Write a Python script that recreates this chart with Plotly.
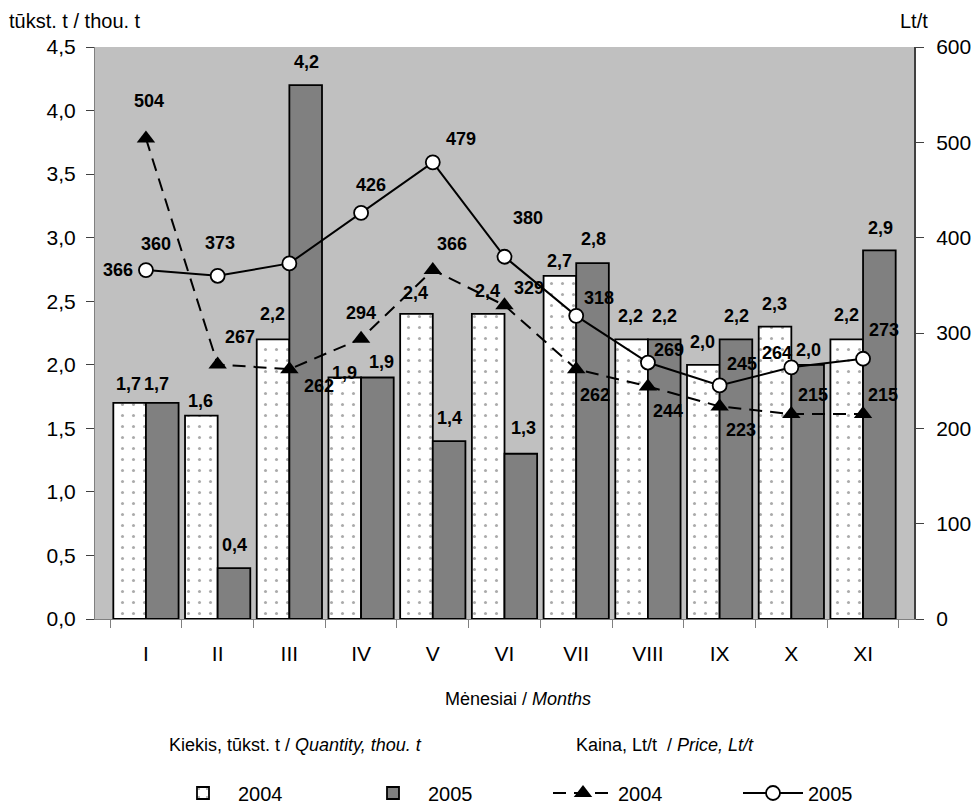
import plotly.graph_objects as go

months = ["I", "II", "III", "IV", "V", "VI", "VII", "VIII", "IX", "X", "XI"]
qty_2004 = [1.7, 1.6, 2.2, 1.9, 2.4, 2.4, 2.7, 2.2, 2.0, 2.3, 2.2]
qty_2005 = [1.7, 0.4, 4.2, 1.9, 1.4, 1.3, 2.8, 2.2, 2.2, 2.0, 2.9]
price_2004 = [504, 267, 262, 294, 366, 329, 262, 244, 223, 215, 215]
price_2005 = [366, 360, 373, 426, 479, 380, 318, 269, 245, 264, 273]

# label offsets (style only)
bar04_shift = [(0, 19), (0, 15), (0, 25), (0, 4), (0, 21), (0, 23), (0, 15), (0, 23), (0, 23), (0, 23), (0, 24)]
bar05_shift = [(-6, 19), (0, 23), (0, 23), (3, 15), (0, 23), (2, 26), (0, 24), (0, 23), (0, 23), (0, 15), (0, 22)]
p05_shift = [(-28, 0), (-62, 32), (-69, 20), (10, 28), (28, 23), (23, 39), (23, 18), (21, 13), (22, 21), (-14, 14), (21, 29)]
p04_shift = [(3, 38), (22, 27), (30, -17), (0, 26), (19, 26), (24, 17), (19, -26), (20, -25), (21, -24), (22, 19), (20, 19)]

FONT = "Liberation Sans, Arial, sans-serif"
OFF = 8  # page body margin
W, H = 979 - OFF, 805 - OFF
L, T = 95 - OFF, 47 - OFF
R = W - (914 - OFF)
B = H - (619 - OFF)
PW, PH = W - L - R, H - T - B


def px(x):  # page pixel -> paper
    return (x - OFF - L) / PW


def py(y):
    return (H - B - (y - OFF)) / PH


fig = go.Figure()
fig.add_trace(go.Bar(
    x=months, y=qty_2004, name="2004", yaxis="y",
    marker=dict(color="white", line=dict(color="black", width=1.8),
                pattern=dict(shape=".", fgcolor="#555555", bgcolor="white", size=11, solidity=0.06)),
))
fig.add_trace(go.Bar(
    x=months, y=qty_2005, name="2005", yaxis="y",
    marker=dict(color="#808080", line=dict(color="black", width=1.8)),
))
fig.add_trace(go.Scatter(
    x=months, y=price_2004, name="2004", yaxis="y2", mode="lines+markers",
    line=dict(color="black", width=2, dash="13px,8px"),
    marker=dict(symbol="triangle-up", size=16, color="black"),
))
fig.add_trace(go.Scatter(
    x=months, y=price_2005, name="2005", yaxis="y2", mode="lines+markers",
    line=dict(color="black", width=2),
    marker=dict(symbol="circle", size=14, color="white", line=dict(color="black", width=1.8)),
))

ann = []
lab_font = dict(family=FONT, size=18, color="black", weight="bold")
for i, m in enumerate(months):
    ann.append(dict(x=m, y=qty_2004[i], xref="x", yref="y", text=f"{qty_2004[i]:.1f}".replace(".", ","),
                    showarrow=False, xshift=-17 + bar04_shift[i][0], yshift=bar04_shift[i][1], font=lab_font))
    ann.append(dict(x=m, y=qty_2005[i], xref="x", yref="y", text=f"{qty_2005[i]:.1f}".replace(".", ","),
                    showarrow=False, xshift=17 + bar05_shift[i][0], yshift=bar05_shift[i][1], font=lab_font))
    ann.append(dict(x=m, y=price_2004[i], xref="x", yref="y2", text=str(price_2004[i]),
                    showarrow=False, xshift=p04_shift[i][0], yshift=p04_shift[i][1], font=lab_font))
    ann.append(dict(x=m, y=price_2005[i], xref="x", yref="y2", text=str(price_2005[i]),
                    showarrow=False, xshift=p05_shift[i][0], yshift=p05_shift[i][1], font=lab_font))

txt_font = dict(family=FONT, size=20, color="black")
small_font = dict(family=FONT, size=18, color="black")
ann += [
    dict(x=px(7), y=py(21), xref="paper", yref="paper", xanchor="left", yanchor="middle",
         text="tūkst. t / thou. t", showarrow=False, font=txt_font),
    dict(x=px(930), y=py(21), xref="paper", yref="paper", xanchor="right", yanchor="middle",
         text="Lt/t", showarrow=False, font=txt_font),
    dict(x=px(518), y=py(699), xref="paper", yref="paper", xanchor="center", yanchor="middle",
         text="Mėnesiai / <i>Months</i>", showarrow=False, font=small_font),
    dict(x=px(167), y=py(745), xref="paper", yref="paper", xanchor="left", yanchor="middle",
         text="Kiekis, tūkst. t / <i>Quantity, thou. t</i>", showarrow=False, font=small_font),
    dict(x=px(574), y=py(745), xref="paper", yref="paper", xanchor="left", yanchor="middle",
         text="Kaina, Lt/t  / <i>Price, Lt/t</i>", showarrow=False, font=small_font),
]

fig.update_layout(
    width=W, height=H,
    margin=dict(l=L, r=R, t=T, b=B, autoexpand=False),
    paper_bgcolor="white", plot_bgcolor="#C0C0C0",
    separators=", ",
    barmode="group", bargap=0.09, bargroupgap=0,
    font=dict(family=FONT, size=20, color="black"),
    showlegend=True,
    legend=dict(orientation="h", xref="container", yref="container",
                x=(168 - OFF) / W, y=1 - (793 - OFF) / H,
                xanchor="left", yanchor="middle",
                entrywidth=115, entrywidthmode="pixels", itemwidth=60,
                font=dict(family=FONT, size=20, color="black"), bgcolor="rgba(0,0,0,0)"),
    xaxis=dict(type="category", showgrid=False, ticks="outside", tickson="boundaries", ticklen=8,
               tickcolor="#808080", showline=True, linecolor="#808080", linewidth=1,
               ticklabelstandoff=16, tickfont=dict(family=FONT, size=21)),
    yaxis=dict(range=[0, 4.5], dtick=0.5, tickformat=".1f", showgrid=False, zeroline=False,
               ticks="outside", ticklen=8, tickcolor="#404040", showline=True, linecolor="#808080",
               linewidth=1, tickfont=dict(family=FONT, size=21), ticklabelstandoff=6),
    yaxis2=dict(range=[0, 600], dtick=100, overlaying="y", side="right", showgrid=False, zeroline=False,
                ticks="outside", ticklen=8, tickcolor="#404040", showline=True, linecolor="#404040",
                linewidth=2, tickfont=dict(family=FONT, size=21), ticklabelstandoff=8),
    annotations=ann,
)

fig.write_html("out.html")
